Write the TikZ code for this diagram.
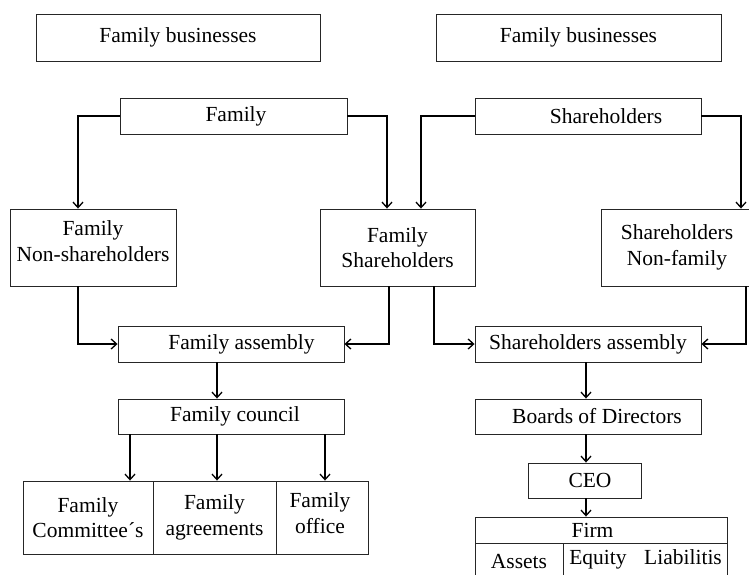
\documentclass[tikz,border=0pt]{standalone}
\usepackage{fontspec}
\setmainfont{Liberation Serif}
\usetikzlibrary{arrows.meta}
\begin{document}
\begin{tikzpicture}[x=1pt,y=-1pt,
  box/.style={draw=black!85,line width=0.9pt,rectangle,inner sep=0pt,align=center,
    font=\fontsize{21.5}{25.5}\selectfont},
  txt/.style={inner sep=0pt,align=center,font=\fontsize{21.5}{25.5}\selectfont},
  arr/.style={line width=1.3pt,black,-{Straight Barb[length=5.5pt,width=10pt,line width=1.3pt]}}]
\useasboundingbox (0,0) rectangle (749,574);
% top boxes
\node[box,minimum width=284pt,minimum height=47pt] (fb1) at (178,37.5) {Family businesses};
\node[box,minimum width=285pt,minimum height=47pt] (fb2) at (578.5,37.5) {Family businesses};
% sources
\node[box,minimum width=227pt,minimum height=36pt] (fam) at (233.5,116) {\hspace*{5pt}Family};
\node[box,minimum width=226pt,minimum height=36pt] (sh) at (588,116) {\hspace*{36pt}Shareholders};
% middle
\node[box,minimum width=166pt,minimum height=77pt] (fns) at (93,247.5) {};
\node[txt] (fnst) at (93,241) {Family\\Non-shareholders};
\node[box,minimum width=155pt,minimum height=77pt] (fsh) at (397.5,247.5) {Family\\Shareholders};
\node[box,minimum width=152pt,minimum height=77pt] (snf) at (677,247.5) {Shareholders\\Non-family};
% assemblies
\node[box,minimum width=226pt,minimum height=36pt] (fa) at (231,344) {\hspace*{21pt}Family assembly};
\node[box,minimum width=226pt,minimum height=36pt] (sa) at (588,344) {Shareholders assembly};
\node[box,minimum width=226pt,minimum height=35pt] (fc) at (231,416.5) {\hspace*{8pt}Family council};
\node[box,minimum width=226pt,minimum height=35pt] (bod) at (588,416.5) {\hspace*{18pt}Boards of Directors};
\node[box,minimum width=113pt,minimum height=35pt] (ceo) at (584.5,480.5) {\hspace*{11pt}CEO};
% bottom left row
\node[box,minimum width=130pt,minimum height=73pt] (fcm) at (88,517.5) {Family\\Committee´s};
\node[box,minimum width=123pt,minimum height=73pt] (fag) at (214.5,517.5) {Family\\agreements};
\node[box,minimum width=92pt,minimum height=73pt] (fof) at (322,517.5) {};
\node[txt] (foft) at (320,513) {Family\\office};
% firm table
\node[box,minimum width=252pt,minimum height=26pt] (firm) at (601,530) {Firm\hspace*{17pt}};
\node[box,minimum width=88pt,minimum height=38pt] (ast) at (519,562) {};
\node[box,minimum width=164pt,minimum height=38pt] (eql) at (645,562) {};
\node[txt,anchor=base] (astt) at (519,568) {Assets};
\node[txt,anchor=base] (eqt) at (598,564) {Equity};
\node[txt,anchor=base] (lit) at (683,564) {Liabilitis};
% connectors
\draw[arr] (fam.west) -| ([xshift=-15pt]fns.north);
\draw[arr] (fam.east) -| ([xshift=-10.5pt]fsh.north);
\draw[arr] (sh.west) -| ([xshift=23.5pt]fsh.north);
\draw[arr] (sh.east) -| ([xshift=64pt]snf.north);
\draw[arr] ([xshift=-15pt]fns.south) |- (fa.west);
\draw[arr] ([xshift=-8.5pt]fsh.south) |- (fa.east);
\draw[arr] ([xshift=36.5pt]fsh.south) |- (sa.west);
\draw[arr] ([xshift=69pt]snf.south) |- (sa.east);
\draw[arr] ([xshift=-14pt]fa.south) -- ([xshift=-14pt]fc.north);
\draw[arr] ([xshift=-101pt]fc.south) -- ([xshift=-101pt]fc.south |- fcm.north);
\draw[arr] ([xshift=-14pt]fc.south) -- ([xshift=-14pt]fc.south |- fag.north);
\draw[arr] ([xshift=94pt]fc.south) -- ([xshift=94pt]fc.south |- fof.north);
\draw[arr] ([xshift=-2pt]sa.south) -- ([xshift=-2pt]bod.north);
\draw[arr] ([xshift=-2pt]bod.south) -- ([xshift=-2pt]bod.south |- ceo.north);
\draw[arr] ([xshift=1.5pt]ceo.south) -- ([xshift=1.5pt]ceo.south |- firm.north);
\end{tikzpicture}
\end{document}
